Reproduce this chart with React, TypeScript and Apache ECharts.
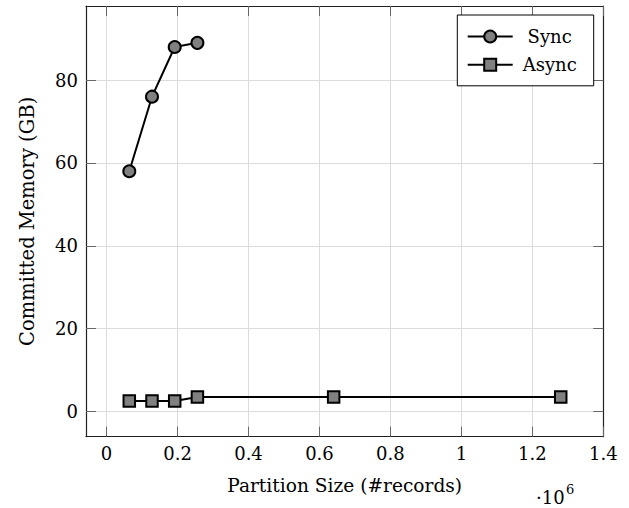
import React, { useEffect, useRef } from "react";
import * as echarts from "echarts";

const xTicks = [0, 0.2, 0.4, 0.6, 0.8, 1, 1.2, 1.4];
const yTicks = [0, 20, 40, 60, 80];
const syncX = [0.064, 0.128, 0.192, 0.256];
const syncY = [58, 76, 88, 89];
const asyncX = [0.064, 0.128, 0.192, 0.256, 0.64, 1.28];
const asyncY = [2.5, 2.5, 2.5, 3.5, 3.5, 3.5];

const FONT = "DejaVu Serif";

export default function App() {
  const ref = useRef<HTMLDivElement>(null);
  useEffect(() => {
    document.body.style.margin = "0";
    const chart = echarts.init(ref.current!, null, { renderer: "svg" });
    const axisLine = { show: true, onZero: false, lineStyle: { color: "#222", width: 1.2 } };
    const tick = { show: true, inside: true, length: 10, lineStyle: { color: "#666", width: 1 } };
    const xBase = { type: "value", min: -0.058, max: 1.4 };
    const yBase = { type: "value", min: -6.1, max: 97.9 };
    const option: any = {
      animation: false,
      grid: { left: 86, top: 6, right: 25.7, bottom: 71.3, containLabel: false, outerBoundsMode: "none" },
      xAxis: [
        {
          ...xBase,
          position: "bottom",
          name: "Partition Size (#records)",
          nameLocation: "middle",
          nameGap: 39,
          nameTextStyle: { fontFamily: FONT, fontSize: 18.6, color: "#000" },
          axisLine,
          axisTick: { ...tick, customValues: xTicks },
          axisLabel: { customValues: xTicks, fontFamily: FONT, fontSize: 18, color: "#000", margin: 8 },
          splitLine: { show: true, lineStyle: { color: "#dcdcdc", width: 1 } },
        },
        {
          ...xBase,
          position: "top",
          axisLine,
          axisTick: { ...tick, customValues: xTicks },
          axisLabel: { show: false },
          splitLine: { show: false },
        },
      ],
      yAxis: [
        {
          ...yBase,
          position: "left",
          name: "Committed Memory (GB)",
          nameLocation: "middle",
          nameRotate: 90,
          nameGap: 49,
          nameTextStyle: { fontFamily: FONT, fontSize: 19.5, color: "#000" },
          axisLine,
          axisTick: { ...tick, customValues: yTicks },
          axisLabel: { customValues: yTicks, fontFamily: FONT, fontSize: 18, color: "#000", margin: 8 },
          splitLine: { show: true, lineStyle: { color: "#dcdcdc", width: 1 } },
        },
        {
          ...yBase,
          position: "right",
          axisLine,
          axisTick: { ...tick, customValues: yTicks },
          axisLabel: { show: false },
          splitLine: { show: false },
        },
      ],
      legend: {
        orient: "vertical",
        left: 457.3,
        top: 15,
        padding: [11.5, 12, 11, 9.4],
        itemWidth: 45,
        itemHeight: 15,
        itemGap: 8.3,
        borderColor: "#000",
        borderWidth: 1,
        borderRadius: 0,
        backgroundColor: "#fff",
        formatter: (name: string) => "{c|" + name + "}",
        textStyle: {
          fontFamily: FONT,
          fontSize: 18,
          color: "#000",
          lineHeight: 20,
          rich: { c: { width: 64, align: "center", fontFamily: FONT, fontSize: 18, color: "#000", lineHeight: 20 } },
        },
        data: ["Sync", "Async"],
      },
      series: [
        {
          name: "Sync",
          type: "line",
          data: syncX.map((x, i) => [x, syncY[i]]),
          symbol: "circle",
          symbolSize: 12,
          lineStyle: { color: "#000", width: 2 },
          itemStyle: { color: "#808080", borderColor: "#000", borderWidth: 2 },
          z: 5,
        },
        {
          name: "Async",
          type: "line",
          data: asyncX.map((x, i) => [x, asyncY[i]]),
          symbol: "rect",
          symbolSize: 11.5,
          lineStyle: { color: "#000", width: 2 },
          itemStyle: { color: "#808080", borderColor: "#000", borderWidth: 2 },
          z: 5,
        },
      ],
      graphic: [
        {
          type: "text",
          left: 536,
          top: 488,
          style: { text: "·10", fontFamily: FONT, fontSize: 18, fill: "#000" },
        },
        {
          type: "text",
          left: 566,
          top: 483,
          style: { text: "6", fontFamily: FONT, fontSize: 13, fill: "#000" },
        },
      ],
    };
    chart.setOption(option);
    return () => chart.dispose();
  }, []);
  return (
    <div
      ref={ref}
      style={{ position: "absolute", left: 0, top: 0, width: 629, height: 508 }}
    />
  );
}
